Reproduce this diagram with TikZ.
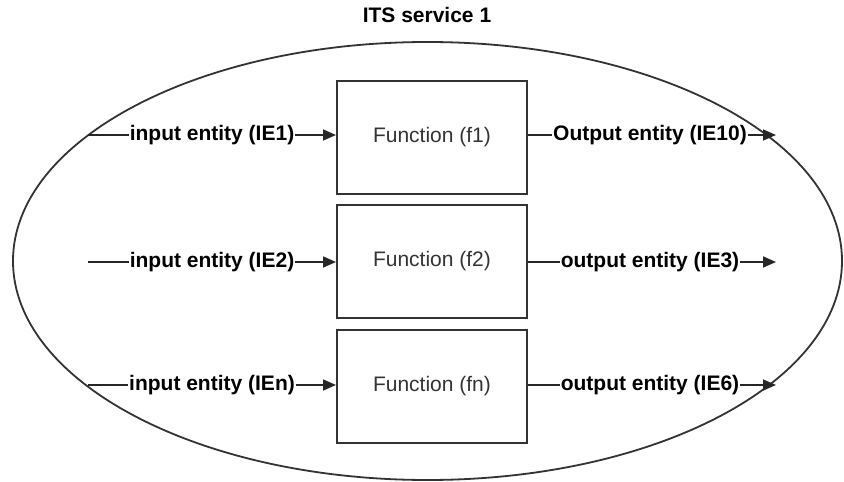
\documentclass[tikz,border=0pt]{standalone}
\usepackage{fontspec}
\setmainfont{Liberation Sans}
\usetikzlibrary{arrows.meta,shapes.geometric}
\begin{document}
\begin{tikzpicture}[x=1pt,y=-1pt,
  lab/.style={font=\fontsize{21}{24}\selectfont\bfseries, text=black, inner xsep=0.5pt, inner ysep=2pt},
  fbox/.style={draw=black!80, line width=2pt, minimum width=190pt, minimum height=113pt, inner sep=0pt,
               font=\fontsize{21}{24}\selectfont, text=black!80},
  conn/.style={draw=black!85, line width=1.6pt},
  arr/.style={conn, -{Triangle[length=13pt,width=11pt]}}]
\useasboundingbox (0,0) rectangle (844,482);
\node[draw=black!80, line width=1.8pt, ellipse, minimum width=829pt, minimum height=438pt, inner sep=0pt] (svc) at (427.5,261) {};
\node[font=\fontsize{21}{24}\selectfont\bfseries] (title) at (427,15) {ITS service 1};
% functions
\node[fbox] (f1) at (432,137) {Function (f1)};
\node[fbox] (f2) at (432,261) {Function (f2)};
\node[fbox] (fn) at (432,386) {Function (fn)};
% inputs
\coordinate (i1) at (88,135);
\coordinate (i2) at (88,262);
\coordinate (in) at (88,385);
\node[lab] (li1) at (212,135) {input entity (IE1)};
\node[lab] (li2) at (212,262) {input entity (IE2)};
\node[lab] (lin) at (212,385) {input entity (IEn)};
\draw[conn] (i1) -- (li1);
\draw[conn] (i2) -- (li2);
\draw[conn] (in) -- (lin);
\draw[arr] (li1) -- (li1 -| f1.west);
\draw[arr] (li2) -- (li2 -| f2.west);
\draw[arr] (lin) -- (lin -| fn.west);
% outputs
\coordinate (o1) at (776,135);
\coordinate (o2) at (776,262);
\coordinate (on) at (776,385);
\node[lab] (lo1) at (650,135) {Output entity (IE10)};
\node[lab] (lo2) at (650,262) {output entity (IE3)};
\node[lab] (lon) at (650,385) {output entity (IE6)};
\draw[conn] (f1.east |- lo1) -- (lo1);
\draw[conn] (f2.east |- lo2) -- (lo2);
\draw[conn] (fn.east |- lon) -- (lon);
\draw[arr] (lo1) -- (o1);
\draw[arr] (lo2) -- (o2);
\draw[arr] (lon) -- (on);
\end{tikzpicture}
\end{document}
